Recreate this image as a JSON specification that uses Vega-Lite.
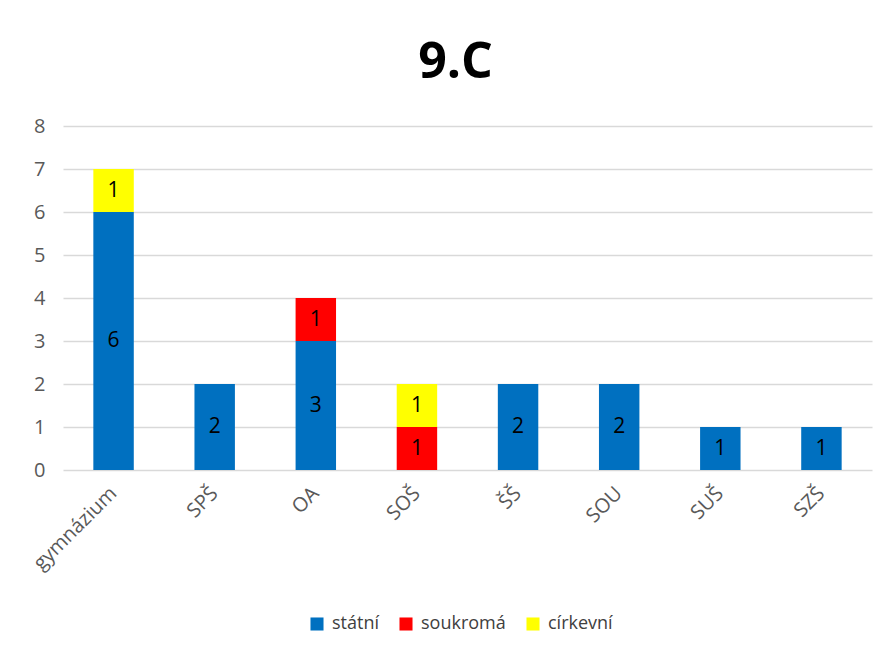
{
  "$schema": "https://vega.github.io/schema/vega-lite/v6.json",
  "width": 809,
  "height": 344,
  "autosize": "none",
  "padding": {"left": 63, "top": 126, "right": 20, "bottom": 190},
  "background": "white",
  "title": {"text": "9.C", "fontSize": 50, "font": "Open Sans", "fontWeight": "bold", "color": "black", "anchor": "middle", "offset": 28, "frame": "group", "dx": -12},
  "config": {
    "view": {"stroke": null},
    "font": "Open Sans"
  },
  "data": {
    "values": [
      {"skola": "gymnázium", "typ": "státní", "pocet": 6, "poradi": 1},
      {"skola": "gymnázium", "typ": "církevní", "pocet": 1, "poradi": 3},
      {"skola": "SPŠ", "typ": "státní", "pocet": 2, "poradi": 1},
      {"skola": "OA", "typ": "státní", "pocet": 3, "poradi": 1},
      {"skola": "OA", "typ": "soukromá", "pocet": 1, "poradi": 2},
      {"skola": "SOŠ", "typ": "soukromá", "pocet": 1, "poradi": 2},
      {"skola": "SOŠ", "typ": "církevní", "pocet": 1, "poradi": 3},
      {"skola": "ŠŠ", "typ": "státní", "pocet": 2, "poradi": 1},
      {"skola": "SOU", "typ": "státní", "pocet": 2, "poradi": 1},
      {"skola": "SUŠ", "typ": "státní", "pocet": 1, "poradi": 1},
      {"skola": "SZŠ", "typ": "státní", "pocet": 1, "poradi": 1}
    ]
  },
  "transform": [
    {"stack": "pocet", "groupby": ["skola"], "sort": [{"field": "poradi"}], "as": ["y0", "y1"]},
    {"calculate": "(datum.y0 + datum.y1) / 2", "as": "ymid"}
  ],
  "encoding": {
    "x": {
      "field": "skola", "type": "nominal",
      "sort": ["gymnázium", "SPŠ", "OA", "SOŠ", "ŠŠ", "SOU", "SUŠ", "SZŠ"],
      "scale": {"paddingInner": 0.6, "paddingOuter": 0.3},
      "axis": {
        "title": null, "labelAngle": -45, "labelAlign": "right", "labelBaseline": "middle",
        "labelFontSize": 20, "labelColor": "#595959", "labelPadding": 20,
        "ticks": false, "domain": false, "grid": false
      }
    }
  },
  "layer": [
    {
      "mark": {"type": "bar"},
      "encoding": {
        "y": {
          "field": "y0", "type": "quantitative",
          "scale": {"domain": [0, 8]},
          "axis": {
            "title": null, "values": [0,1,2,3,4,5,6,7,8], "labelOverlap": false,
            "labelFontSize": 20, "labelColor": "#595959", "labelPadding": 18,
            "ticks": false, "domain": false, "gridColor": "#d9d9d9", "gridWidth": 1.3
          }
        },
        "y2": {"field": "y1"},
        "color": {
          "field": "typ", "type": "nominal",
          "scale": {"domain": ["státní", "soukromá", "církevní"], "range": ["#0070C0", "#FF0000", "#FFFF00"]},
          "legend": {
            "title": null, "orient": "none", "direction": "horizontal",
            "legendX": 245, "legendY": 489,
            "symbolType": "square", "symbolSize": 170, "symbolStrokeWidth": 0,
            "labelFontSize": 18, "labelColor": "#404040", "columnPadding": 18, "labelOffset": 6
          }
        }
      }
    },
    {
      "mark": {"type": "text", "fontSize": 21, "color": "black", "baseline": "middle"},
      "encoding": {
        "y": {"field": "ymid", "type": "quantitative"},
        "text": {"field": "pocet", "type": "quantitative"}
      }
    }
  ]
}
